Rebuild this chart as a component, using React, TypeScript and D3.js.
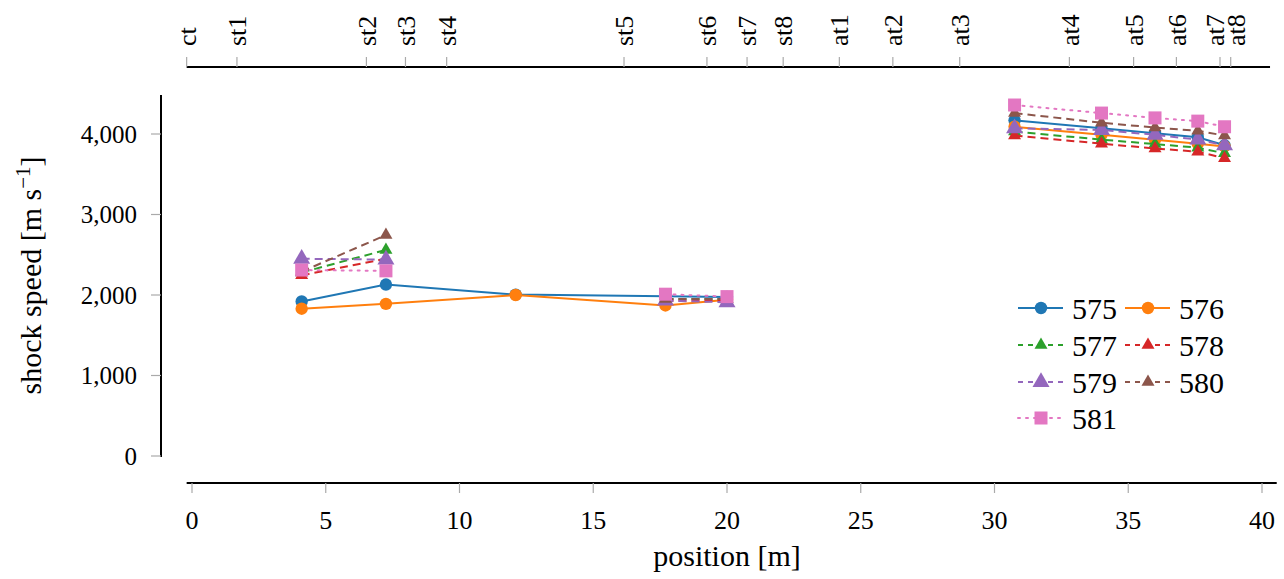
import React from "react";
import * as d3 from "d3";

const positions = [4.1, 7.25, 12.1, 17.7, 20.0, 30.75, 34.0, 36.0, 37.6, 38.6];
const sections = ["st", "st", "st", "st", "st", "at", "at", "at", "at", "at"];

const s575 = [1920, 2130, 2005, 1985, 1975, 4170, 4070, 4010, 3960, 3860];
const s576 = [1830, 1890, 2000, 1870, 1940, 4090, 3990, 3930, 3880, 3845];
const s577 = [2280, 2560, null, 1950, 1950, 4030, 3930, 3875, 3830, 3760];
const s578 = [2245, 2450, null, 1930, 1930, 3980, 3880, 3820, 3780, 3700];
const s579 = [2450, 2440, null, 1930, 1910, 4070, 4050, 3990, 3930, 3860];
const s580 = [2290, 2745, null, 1950, 1950, 4260, 4140, 4080, 4040, 3980];
const s581 = [2310, 2300, null, 2010, 1980, 4360, 4260, 4200, 4160, 4090];

const seriesNames = ["575", "576", "577", "578", "579", "580", "581"];
const seriesValues = [s575, s576, s577, s578, s579, s580, s581];
const colors = ["#1f77b4", "#ff7f0e", "#2ca02c", "#d62728", "#9467bd", "#8c564b", "#e377c2"];
const markers = ["circle", "circle", "tri", "tri", "bigtri", "tri", "square"];
const dashes = ["none", "none", "8,5", "8,5", "8,5", "8,5", "2,6"];

const sensorNames = ["ct", "st1", "st2", "st3", "st4", "st5", "st6", "st7", "st8", "at1", "at2", "at3", "at4", "at5", "at6", "at7", "at8"];
const sensorPos = [-0.2, 1.68, 6.52, 7.98, 9.52, 16.15, 19.25, 20.75, 22.1, 24.2, 26.2, 28.7, 32.8, 35.2, 36.8, 38.43, 38.83];

const xTicks = [0, 5, 10, 15, 20, 25, 30, 35, 40];
const yTicks = [0, 1000, 2000, 3000, 4000];

const FONT = "'Liberation Serif', 'DejaVu Serif', serif";

function Marker({ kind, x, y, color }: { kind: string; x: number; y: number; color: string }) {
  if (kind === "circle") return <circle cx={x} cy={y} r={6.2} fill={color} />;
  if (kind === "square") return <rect x={x - 6.5} y={y - 6.5} width={13} height={13} fill={color} />;
  const s = kind === "bigtri" ? 8.5 : 6.5;
  const sym = d3.symbol(d3.symbolTriangle, s * s * Math.sqrt(3))();
  return <path d={sym as string} transform={`translate(${x},${y})`} fill={color} />;
}

export default function App() {
  const W = 1284, H = 579;
  const x = d3.scaleLinear().domain([0, 40]).range([192, 1262]);
  const y = d3.scaleLinear().domain([0, 4000]).range([456, 134]);
  const yTop = 4485;
  const axisY = 483;
  const topY = 67;
  const axisX = 161;

  const fmt = d3.format(",");

  const labelX = sensorPos.map((p) => x(p));
  const minGap = 21;
  for (let it = 0; it < 20; it++) {
    for (let i = 1; i < labelX.length; i++) {
      const d = labelX[i] - labelX[i - 1];
      if (d < minGap) {
        const push = (minGap - d) / 2;
        labelX[i - 1] -= push;
        labelX[i] += push;
      }
    }
  }

  const lineGen = d3
    .line<{ px: number; v: number | null }>()
    .defined((d) => d.v !== null)
    .x((d) => x(d.px))
    .y((d) => y(d.v as number));

  const legendRows = [308, 345, 382, 418];
  const legendCols = [1018, 1125];

  return (
    <svg width={W} height={H} style={{ position: "absolute", left: 0, top: 0, background: "#fff" }} fontFamily={FONT}>
      {/* y axis */}
      <line x1={axisX} x2={axisX} y1={y(yTop)} y2={y(0) + 1} stroke="#000" strokeWidth={2} />
      {yTicks.map((t) => (
        <g key={t}>
          <line x1={axisX - 10} x2={axisX} y1={y(t)} y2={y(t)} stroke="#aaa" strokeWidth={1.2} />
          <text x={axisX - 24} y={y(t)} dy="0.35em" textAnchor="end" fontSize={25}>
            {fmt(t)}
          </text>
        </g>
      ))}
      <text transform={`translate(41, ${(y(yTop) + y(0)) / 2}) rotate(-90)`} textAnchor="middle" fontSize={30}>
        shock speed [m s
        <tspan dy={-11} fontSize={21}>−1</tspan>
        <tspan dy={11}>]</tspan>
      </text>

      {/* bottom axis */}
      <line x1={x(-0.2)} x2={x(40.55)} y1={axisY} y2={axisY} stroke="#000" strokeWidth={2} />
      {xTicks.map((t) => (
        <g key={t}>
          <line x1={x(t)} x2={x(t)} y1={axisY} y2={axisY + 10} stroke="#aaa" strokeWidth={1.2} />
          <text x={x(t)} y={axisY + 37} dy="0.35em" textAnchor="middle" fontSize={26}>
            {t}
          </text>
        </g>
      ))}
      <text x={(x(0) + x(40)) / 2} y={566} textAnchor="middle" fontSize={30}>
        position [m]
      </text>

      {/* top axis */}
      <line x1={x(-0.2)} x2={x(40.3)} y1={topY} y2={topY} stroke="#000" strokeWidth={2} />
      {sensorNames.map((n, i) => (
        <g key={n}>
          <line x1={x(sensorPos[i])} x2={x(sensorPos[i])} y1={topY - 10} y2={topY} stroke="#aaa" strokeWidth={1.2} />
          <text transform={`translate(${labelX[i]}, 46) rotate(-90)`} textAnchor="start" dy="0.35em" fontSize={26}>
            {n}
          </text>
        </g>
      ))}

      {/* series */}
      {seriesNames.map((name, si) => {
        const pts = positions.map((p, i) => ({ px: p, v: seriesValues[si][i], sec: sections[i] }));
        const secs = Array.from(new Set(sections));
        return (
          <g key={name}>
            {secs.map((sec) => (
              <path
                key={sec}
                d={lineGen(pts.filter((d) => d.sec === sec)) || ""}
                fill="none"
                stroke={colors[si]}
                strokeWidth={2}
                strokeDasharray={dashes[si]}
                strokeLinecap={si === 6 ? "round" : "butt"}
              />
            ))}
            {pts
              .filter((d) => d.v !== null)
              .map((d, i) => (
                <Marker key={i} kind={markers[si]} x={x(d.px)} y={y(d.v as number)} color={colors[si]} />
              ))}
          </g>
        );
      })}

      {/* legend */}
      {seriesNames.map((name, si) => {
        const row = Math.floor(si / 2);
        const col = si % 2;
        const lx = legendCols[col];
        const ly = legendRows[row];
        return (
          <g key={name}>
            <line
              x1={lx}
              x2={lx + 45}
              y1={ly}
              y2={ly}
              stroke={colors[si]}
              strokeWidth={2}
              strokeDasharray={si >= 2 && si <= 5 ? "5,5" : si === 6 ? "2,6" : "none"}
              strokeLinecap={si === 6 ? "round" : "butt"}
            />
            <Marker kind={markers[si]} x={lx + 23} y={ly} color={colors[si]} />
            <text x={lx + 54} y={ly} dy="0.35em" fontSize={30}>
              {name}
            </text>
          </g>
        );
      })}
    </svg>
  );
}
